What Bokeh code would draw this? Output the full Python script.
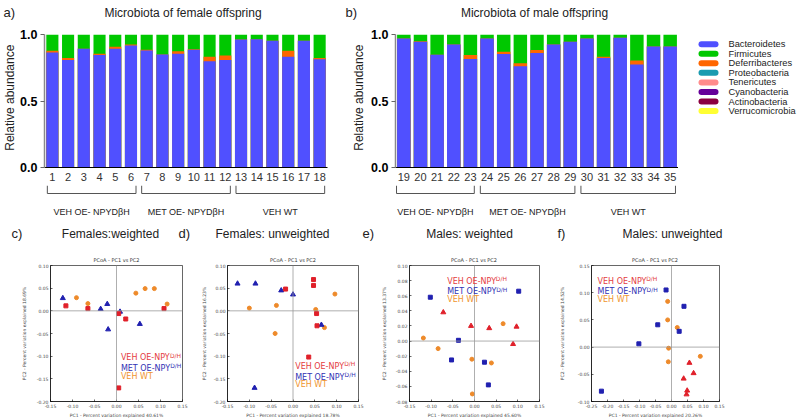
import math
from bokeh.plotting import figure
from bokeh.models import (ColumnDataSource, Range1d, FixedTicker, Label, Span,
                          PrintfTickFormatter, Spacer)
from bokeh.layouts import row, column
from bokeh.embed import file_html
from bokeh.resources import INLINE
from bokeh.core.properties import value

# ------------------------------------------------------------------ data
phyla = ["Bacteroidetes", "Firmicutes", "Deferribacteres", "Proteobacteria",
         "Tenericutes", "Cyanobacteria", "Actinobacteria", "Verrucomicrobia"]
phyla_colors = ["#5050FF", "#00C800", "#FF6600", "#1A9BB0",
                "#FF8C8C", "#660099", "#8B0040", "#FFFF33"]

female_samples = list(range(1, 19))
female_bacteroidetes = [0.865, 0.808, 0.893, 0.845, 0.893, 0.918, 0.880, 0.850, 0.855,
                        0.885, 0.798, 0.808, 0.963, 0.965, 0.953, 0.833, 0.953, 0.813]
female_deferribacteres = [0.012, 0.015, 0.0, 0.010, 0.015, 0.007, 0.005, 0.0, 0.020,
                          0.005, 0.035, 0.035, 0.0, 0.0, 0.0, 0.045, 0.0, 0.010]
female_firmicutes = [0.123, 0.177, 0.107, 0.145, 0.092, 0.075, 0.115, 0.150, 0.125,
                     0.110, 0.167, 0.157, 0.037, 0.035, 0.047, 0.122, 0.047, 0.177]

male_samples = list(range(19, 36))
male_bacteroidetes = [0.970, 0.945, 0.848, 0.925, 0.815, 0.970, 0.853, 0.761, 0.860,
                      0.925, 0.945, 0.970, 0.823, 0.975, 0.774, 0.910, 0.910]
male_deferribacteres = [0.0, 0.005, 0.0, 0.0, 0.030, 0.0, 0.017, 0.022, 0.023,
                        0.0, 0.0, 0.0, 0.010, 0.0, 0.030, 0.0, 0.0]
male_firmicutes = [0.030, 0.050, 0.152, 0.075, 0.155, 0.030, 0.130, 0.217, 0.117,
                   0.075, 0.055, 0.030, 0.167, 0.025, 0.196, 0.090, 0.090]

group_names = ["VEH OE- NPYDβH", "MET OE- NPYDβH", "VEH WT"]
female_group_first = [1, 7, 13]
female_group_last = [6, 12, 18]
male_group_first = [19, 24, 30]
male_group_last = [23, 29, 35]

pcoa_names = ["VEH OE-NPY", "MET OE-NPY", "VEH WT"]
pcoa_sups = ["D/H", "D/H", ""]
pcoa_colors = ["#E0202A", "#2020B0", "#EE8A2A"]
pcoa_text_colors = ["#E43C42", "#3232B4", "#F0952F"]

# c) Females weighted
c_vehoe_x = [-0.115, -0.065, 0.005, 0.021, 0.108, 0.005]
c_vehoe_y = [0.011, 0.005, -0.006, -0.018, 0.005, -0.170]
c_met_x = [-0.122, -0.036, -0.021, -0.019, 0.008, 0.053]
c_met_y = [0.028, 0.004, 0.015, -0.041, -0.002, -0.029]
c_wt_x = [-0.091, -0.065, 0.044, 0.065, 0.086, 0.115]
c_wt_y = [0.029, 0.016, 0.039, 0.049, 0.049, 0.015]
# d) Females unweighted
d_vehoe_x = [-0.017, 0.047, 0.047, 0.054, 0.055, 0.036]
d_vehoe_y = [0.048, 0.069, 0.056, -0.006, -0.033, -0.102]
d_met_x = [-0.127, -0.086, -0.027, 0.000, 0.065, -0.088]
d_met_y = [0.060, 0.060, 0.045, 0.036, -0.031, -0.170]
d_wt_x = [-0.100, -0.038, -0.041, 0.052, 0.072, 0.096]
d_wt_y = [0.006, 0.012, -0.050, 0.003, -0.037, 0.037]
# e) Males weighted
e_vehoe_x = [-0.072, -0.008, 0.034, 0.097, 0.089]
e_vehoe_y = [0.038, 0.020, 0.017, 0.019, -0.004]
e_met_x = [-0.102, -0.037, -0.053, 0.023, 0.032, 0.102]
e_met_y = [0.058, 0.001, -0.025, -0.028, -0.058, 0.066]
e_wt_x = [-0.118, -0.084, -0.006, 0.039, -0.005, 0.066]
e_wt_y = [0.004, -0.010, -0.024, -0.029, -0.070, 0.023]
# f) Males unweighted
f_vehoe_x = [0.056, 0.069, 0.038, 0.049, 0.047]
f_vehoe_y = [-0.029, -0.048, -0.058, -0.080, -0.087]
f_met_x = [-0.017, 0.039, -0.043, 0.024, -0.102, -0.219]
f_met_y = [0.105, 0.075, 0.041, 0.029, 0.006, -0.081]
f_wt_x = [-0.012, -0.012, 0.018, -0.009, 0.090, -0.010]
f_wt_y = [0.084, 0.050, 0.036, -0.002, -0.017, -0.027]

xticks_15 = [-0.15, -0.10, -0.05, 0.0, 0.05, 0.10, 0.15]
xticks_25 = [-0.25, -0.20, -0.15, -0.10, -0.05, 0.0, 0.05, 0.10, 0.15]
yticks_c = [-0.20, -0.15, -0.10, -0.05, 0.0, 0.05, 0.10]
yticks_e = [-0.08, -0.06, -0.04, -0.02, 0.0, 0.02, 0.04, 0.06, 0.08, 0.10]
yticks_f = [-0.10, -0.05, 0.0, 0.05, 0.10, 0.15]

SANS = "Liberation Sans"
MPL = "DejaVu Sans"


def blank_fig(width, height, xr, yr):
    p = figure(width=width, height=height, x_range=Range1d(*xr), y_range=Range1d(*yr),
               min_border=0, x_axis_location=None, y_axis_location=None,
               toolbar_location=None, output_backend="svg")
    p.outline_line_color = None
    p.grid.visible = False
    return p


def text_strip(width, height, items):
    """items: (x_from_left, y_from_top, text, size, align, angle, font, color)"""
    p = blank_fig(width, height, (0, width), (0, height))
    for x, y, t, size, align, angle, font, color in items:
        p.text([x], [height - y], text=[t], text_font=value(font), text_font_size=size,
               text_align=align, text_baseline="middle", angle=angle, text_color=color)
    return p


# ------------------------------------------------------------------ bar charts
BAR_H, BAR_TOP, BAR_FH, BAR_BOT = 161, 10, 133, 18


def bar_figure(samples, bact, defer, firm, left, fw, right, bw):
    x0, x1 = samples[0] - 0.5, samples[-1] + 0.5
    p = figure(width=left + fw + right, height=BAR_H, x_range=Range1d(x0, x1),
               y_range=Range1d(0, 1), min_border_left=left, min_border_right=right,
               min_border_top=BAR_TOP, min_border_bottom=BAR_BOT,
               toolbar_location=None, output_backend="svg")
    p.outline_line_color = None
    p.grid.visible = False

    lvl_b = list(bact)
    lvl_d = [b + d for b, d in zip(bact, defer)]
    lvl_f = [b + d + f for b, d, f in zip(bact, defer, firm)]
    src = ColumnDataSource(dict(x=samples, b=lvl_b, d=lvl_d, f=lvl_f))
    p.vbar(x="x", top="f", width=bw, fill_color=phyla_colors[1], line_color=None, source=src)
    p.vbar(x="x", top="d", width=bw, fill_color=phyla_colors[2], line_color=None, source=src)
    p.vbar(x="x", top="b", width=bw, fill_color=phyla_colors[0], line_color=None, source=src)

    ya = p.yaxis[0]
    ya.ticker = FixedTicker(ticks=[0.0, 0.5, 1.0])
    ya.formatter = PrintfTickFormatter(format="%.1f")
    ya.major_label_text_font = SANS
    ya.major_label_text_font_style = "bold"
    ya.major_label_text_font_size = "12.5px"
    ya.major_label_text_color = "black"
    ya.major_label_standoff = 3
    ya.major_tick_out = 4
    ya.major_tick_in = 0
    ya.minor_tick_line_color = None
    ya.major_tick_line_color = "#666666"
    ya.axis_line_color = "#8a8a8a"
    ya.axis_line_width = 1.5

    xa = p.xaxis[0]
    xa.ticker = FixedTicker(ticks=samples)
    xa.major_label_text_font = SANS
    xa.major_label_text_font_size = "11px"
    xa.major_label_text_color = "#333333"
    xa.major_label_standoff = 5
    xa.major_tick_out = 0
    xa.major_tick_in = 0
    xa.minor_tick_line_color = None
    xa.axis_line_color = "black"
    return p


def bracket_figure(samples, left, fw, right, firsts, lasts):
    x0, x1 = samples[0] - 0.5, samples[-1] + 0.5
    p = figure(width=left + fw + right, height=35, x_range=Range1d(x0, x1),
               y_range=Range1d(0, 1), min_border=0, min_border_left=left,
               min_border_right=right, x_axis_location=None, y_axis_location=None,
               toolbar_location=None, output_backend="svg")
    p.outline_line_color = None
    p.grid.visible = False
    bx0 = [f - 0.32 for f in firsts]
    bx1 = [l + 0.32 for l in lasts]
    yh = [0.771] * len(firsts)
    ytop = [1.0] * len(firsts)
    p.segment(bx0, yh, bx1, yh, line_color="#555555", line_width=1)
    p.segment(bx0, yh, bx0, ytop, line_color="#555555", line_width=1)
    p.segment(bx1, yh, bx1, ytop, line_color="#555555", line_width=1)
    centers = [(f + l) / 2 for f, l in zip(firsts, lasts)]
    p.text(centers, [0.229] * len(centers), text=group_names, text_align="center",
           text_baseline="middle", text_font=value(SANS), text_font_size="9px",
           text_color="#222222")
    return p


top_strip = text_strip(798, 24, [
    (3, 12, "a)", "13px", "left", 0.0, SANS, "#222222"),
    (182.5, 12, "Microbiota of female offspring", "12px", "center", 0.0, SANS, "#222222"),
    (345, 12, "b)", "13px", "left", 0.0, SANS, "#222222"),
    (534, 12, "Microbiota of male offspring", "12px", "center", 0.0, SANS, "#222222"),
])
ylab_a = text_strip(16, BAR_H, [(9, BAR_TOP + BAR_FH / 2, "Relative abundance", "12px",
                                 "center", math.pi / 2, SANS, "#222222")])
ylab_b = text_strip(28, BAR_H, [(18, BAR_TOP + BAR_FH / 2, "Relative abundance", "12px",
                                 "center", math.pi / 2, SANS, "#222222")])

fig_a = bar_figure(female_samples, female_bacteroidetes, female_deferribacteres,
                   female_firmicutes, 28, 283, 13, 0.77)
fig_b = bar_figure(male_samples, male_bacteroidetes, male_deferribacteres,
                   male_firmicutes, 25, 285, 0, 0.81)
fig_a2 = bracket_figure(female_samples, 44, 283, 13, female_group_first, female_group_last)
fig_b2 = bracket_figure(male_samples, 53, 285, 0, male_group_first, male_group_last)

# legend
fig_l = blank_fig(120, BAR_H, (0, 120), (12.904, -1.011))
rows_idx = list(range(len(phyla)))
fig_l.segment(x0=[23.0] * len(phyla), y0=rows_idx, x1=[37.0] * len(phyla), y1=rows_idx,
              line_color=phyla_colors, line_width=6, line_cap="round")
fig_l.text(x=[50.0] * len(phyla), y=rows_idx, text=phyla, text_baseline="middle",
           text_font=value(SANS), text_font_size="9.3px", text_color="#222222")

# ------------------------------------------------------------------ PCoA
DV = {"V": .684, "E": .632, "H": .752, " ": .318, "O": .787, "-": .361, "N": .748,
      "P": .603, "Y": .611, "M": .863, "T": .611, "W": 0.989}

P_H, P_TOP, P_FH, P_BOT = 158, 3, 139, 16


def pcoa_figure(width, left, right, xr, yr, xticks, yticks, xlab, ylab, ylab_standoff,
                series, leg_x, leg_ys):
    fw = width - left - right
    p = figure(width=width, height=P_H, x_range=Range1d(*xr), y_range=Range1d(*yr),
               min_border_left=left, min_border_right=right, min_border_top=P_TOP,
               min_border_bottom=P_BOT, toolbar_location=None, output_backend="svg")
    p.grid.visible = False
    p.outline_line_color = "black"
    p.outline_line_width = 0.6
    ddx = (xr[1] - xr[0]) / fw
    ddy = (yr[1] - yr[0]) / P_FH

    for ax, ticks, lab, stand in ((p.xaxis[0], xticks, xlab, 2),
                                  (p.yaxis[0], yticks, ylab, ylab_standoff)):
        ax.ticker = FixedTicker(ticks=ticks)
        ax.formatter = PrintfTickFormatter(format="%.2f")
        ax.major_tick_in = 2
        ax.major_tick_out = 0
        ax.minor_tick_line_color = None
        ax.major_tick_line_width = 0.6
        ax.axis_line_width = 0.6
        ax.major_label_text_font = MPL
        ax.major_label_text_font_size = "4.5px"
        ax.major_label_text_color = "#444444"
        ax.major_label_standoff = 2
        ax.axis_label = lab
        ax.axis_label_text_font = MPL
        ax.axis_label_text_font_size = "4.5px"
        ax.axis_label_text_font_style = "normal"
        ax.axis_label_text_color = "#444444"
        ax.axis_label_standoff = stand

    p.add_layout(Span(location=0, dimension="height", line_color="#9a9a9a", line_width=0.8))
    p.add_layout(Span(location=0, dimension="width", line_color="#9a9a9a", line_width=0.8))

    for xs, ys, marker, color, size in series:
        p.scatter(xs, ys, marker=marker, size=size, fill_color=color, line_color=color)

    for name, sup, col, ly in zip(pcoa_names, pcoa_sups, pcoa_text_colors, leg_ys):
        p.add_layout(Label(x=leg_x, y=ly, text=name, text_font=MPL, text_font_size="8px",
                           text_color=col, text_baseline="middle"))
        if sup:
            w = sum(DV.get(ch, 0.6) for ch in name) * 8
            p.add_layout(Label(x=leg_x + w * ddx, y=ly + 2.5 * ddy, text=sup, text_font=MPL,
                               text_font_size="6px", text_color=col,
                               text_baseline="middle"))
    return p


fig_c = pcoa_figure(190, 50, 8, (-0.15, 0.15), (-0.20, 0.10), xticks_15, yticks_c,
                    "PC1 - Percent variation explained 40.61%",
                    "PC2 - Percent variation explained 18.69%", 7,
                    [(c_wt_x, c_wt_y, "circle", pcoa_colors[2], 4),
                     (c_met_x, c_met_y, "triangle", pcoa_colors[1], 5),
                     (c_vehoe_x, c_vehoe_y, "square", pcoa_colors[0], 4)],
                    0.01, [-0.104, -0.127, -0.144])
fig_d = pcoa_figure(188, 37, 20, (-0.15, 0.15), (-0.20, 0.10), xticks_15, yticks_c,
                    "PC1 - Percent variation explained 18.78%",
                    "PC2 - Percent variation explained 16.23%", 4,
                    [(d_wt_x, d_wt_y, "circle", pcoa_colors[2], 4),
                     (d_met_x, d_met_y, "triangle", pcoa_colors[1], 5),
                     (d_vehoe_x, d_vehoe_y, "square", pcoa_colors[0], 4)],
                    0.005, [-0.122, -0.146, -0.1625])
fig_e = pcoa_figure(178, 30, 17, (-0.15, 0.15), (-0.08, 0.10), xticks_15, yticks_e,
                    "PC1 - Percent variation explained 45.60%",
                    "PC2 - Percent variation explained 13.37%", 6,
                    [(e_wt_x, e_wt_y, "circle", pcoa_colors[2], 4),
                     (e_met_x, e_met_y, "square", pcoa_colors[1], 4),
                     (e_vehoe_x, e_vehoe_y, "triangle", pcoa_colors[0], 5)],
                    -0.063, [0.079, 0.065, 0.055])
fig_f = pcoa_figure(242, 34, 79, (-0.25, 0.15), (-0.10, 0.15), xticks_25, yticks_f,
                    "PC1 - Percent variation explained 20.26%",
                    "PC2 - Percent variation explained 14.52%", 10,
                    [(f_wt_x, f_wt_y, "circle", pcoa_colors[2], 4),
                     (f_met_x, f_met_y, "square", pcoa_colors[1], 4),
                     (f_vehoe_x, f_vehoe_y, "triangle", pcoa_colors[0], 5)],
                    -0.231, [0.121, 0.102, 0.087])

bottom_strip = text_strip(798, 42, [
    (11, 13, "c)", "13px", "left", 0.0, SANS, "#222222"),
    (110, 13, "Females:weighted", "12px", "center", 0.0, SANS, "#222222"),
    (178, 13, "d)", "13px", "left", 0.0, SANS, "#222222"),
    (272, 13, "Females: unweighted", "12px", "center", 0.0, SANS, "#222222"),
    (362, 13, "e)", "13px", "left", 0.0, SANS, "#222222"),
    (469, 13, "Males: weighted", "12px", "center", 0.0, SANS, "#222222"),
    (557, 13, "f)", "13px", "left", 0.0, SANS, "#222222"),
    (672, 13, "Males: unweighted", "12px", "center", 0.0, SANS, "#222222"),
    (116, 39.5, "PCoA - PC1 vs PC2", "5px", "center", 0.0, MPL, "#333333"),
    (292.5, 39.5, "PCoA - PC1 vs PC2", "5px", "center", 0.0, MPL, "#333333"),
    (473.5, 39.5, "PCoA - PC1 vs PC2", "5px", "center", 0.0, MPL, "#333333"),
    (654.5, 39.5, "PCoA - PC1 vs PC2", "5px", "center", 0.0, MPL, "#333333"),
])

layout = column(top_strip,
                row(ylab_a, fig_a, ylab_b, fig_b, fig_l),
                row(fig_a2, fig_b2, Spacer(width=120, height=35)),
                bottom_strip,
                row(fig_c, fig_d, fig_e, fig_f))

with open("out.html", "w", encoding="utf-8") as fh_out:
    fh_out.write(file_html(layout, INLINE))
